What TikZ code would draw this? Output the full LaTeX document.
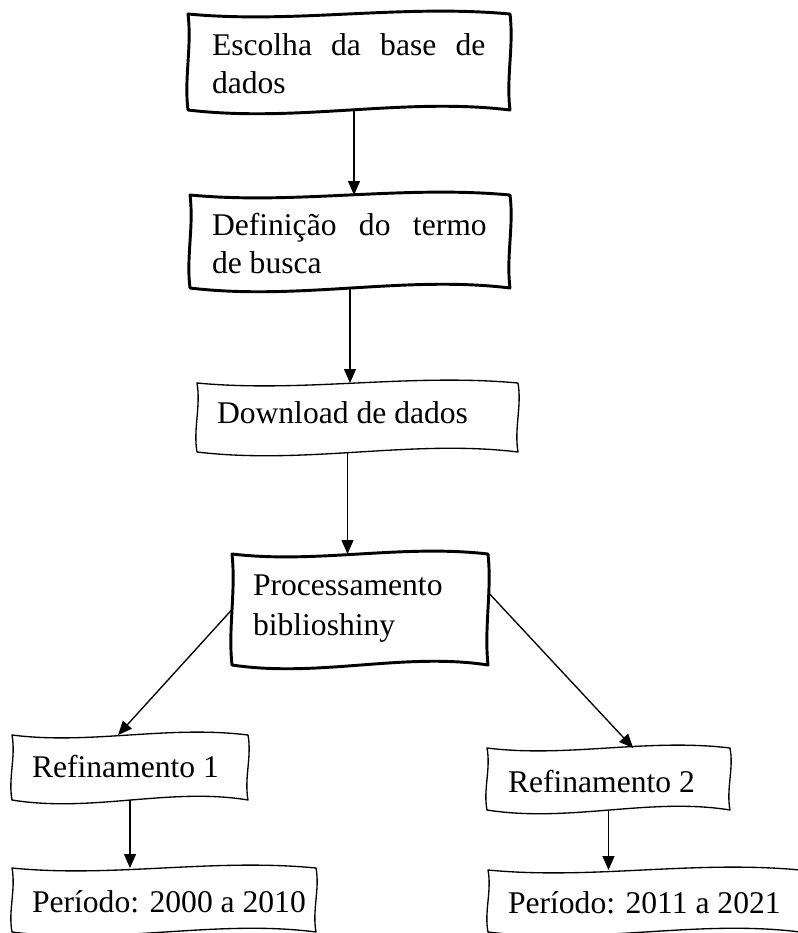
\documentclass[tikz,border=0pt]{standalone}
\usepackage{fontspec}
\setmainfont{Liberation Serif}
\usetikzlibrary{calc,arrows.meta}
\newcommand\px{0.75pt}
\tikzset{
  boxn/.style={draw=none, inner sep=0pt, outer sep=0pt, rectangle},
  thickb/.style={line width=2.2pt, line join=round},
  thinb/.style={line width=1pt, line join=round},
  txt/.style={inner sep=0pt, outer sep=0pt, font=\fontsize{23.7pt}{28pt}\selectfont, anchor=base west},
  arr/.style={line width=1pt, -{Triangle[length=10.5pt,width=9pt]}},
}
\newcommand\wavy[3]{%
  \draw[#1] (#2.north west)
    .. controls ($(#2.north west)!0.33!(#2.north east)+(0,#3)$) and ($(#2.north west)!0.66!(#2.north east)+(0,-#3)$) .. (#2.north east)
    .. controls ($(#2.north east)!0.33!(#2.south east)+(#3*0.4,0)$) and ($(#2.north east)!0.66!(#2.south east)+(-#3*0.4,0)$) .. (#2.south east)
    .. controls ($(#2.south east)!0.33!(#2.south west)+(0,-#3*1.3)$) and ($(#2.south east)!0.66!(#2.south west)+(0,#3*1.3)$) .. (#2.south west)
    .. controls ($(#2.south west)!0.33!(#2.north west)+(-#3*0.4,0)$) and ($(#2.south west)!0.66!(#2.north west)+(#3*0.4,0)$) .. (#2.north west) -- cycle;}
\begin{document}
\begin{tikzpicture}[x=\px, y=-\px]
\clip (0,0) rectangle (798,933);
% boxes
\node[boxn, minimum width=322*\px, minimum height=96*\px] (b1) at (349,62) {};
\node[boxn, minimum width=320*\px, minimum height=93*\px] (b2) at (350,241.5) {};
\node[boxn, minimum width=321*\px, minimum height=69*\px] (b3) at (357.5,417.5) {};
\node[boxn, minimum width=256*\px, minimum height=111*\px] (b4) at (360,609.5) {};
\node[boxn, minimum width=236*\px, minimum height=65*\px] (b5) at (130,767.5) {};
\node[boxn, minimum width=304*\px, minimum height=64*\px] (b6) at (164,900) {};
\node[boxn, minimum width=243*\px, minimum height=62*\px] (b7) at (608.5,779) {};
\node[boxn, minimum width=312*\px, minimum height=62*\px] (b8) at (644,901) {};
\wavy{thickb}{b1}{10}
\wavy{thickb}{b2}{10}
\wavy{thinb}{b3}{10}
\wavy{thickb}{b4}{10}
\wavy{thinb}{b5}{10}
\wavy{thinb}{b6}{10}
\wavy{thinb}{b7}{10}
\wavy{thinb}{b8}{10}
% texts
\node[txt] (t1a) at (212,55) {\makebox[205pt][s]{Escolha da base de}};
\node[txt] (t1b) at (212,93) {dados};
\node[txt] (t2a) at (212,235) {\makebox[206pt][s]{Definição do termo}};
\node[txt] (t2b) at (212,273) {de busca};
\node[txt] (t3) at (217,423) {Download de dados};
\node[txt] (t4a) at (253,595) {Processamento};
\node[txt] (t4b) at (253,635) {biblioshiny};
\node[txt] (t5) at (32,777) {Refinamento 1};
\node[txt] (t6) at (32,912) {Período: 2000 a 2010};
\node[txt] (t7) at (508,792) {Refinamento 2};
\node[txt] (t8) at (508,913) {Período: 2011 a 2021};
% arrows
\draw[arr] (b1.south) ++(5,0) coordinate (s1) -- (s1 |- b2.north);
\draw[arr] (b2.south) -- (b2.south |- b3.north);
\draw[arr] (b3.south) ++(-10,0) coordinate (s3) -- (s3 |- b4.north);
\draw[arr] (b4.west) -- ([xshift=-9pt]b5.north);
\draw[arr] ([yshift=13pt]b4.east) -- ([xshift=18.5pt]b7.north);
\draw[arr] (b5.south) -- (b5.south |- b6.north);
\draw[arr] (b7.south) -- (b7.south |- b8.north);
\end{tikzpicture}
\end{document}
